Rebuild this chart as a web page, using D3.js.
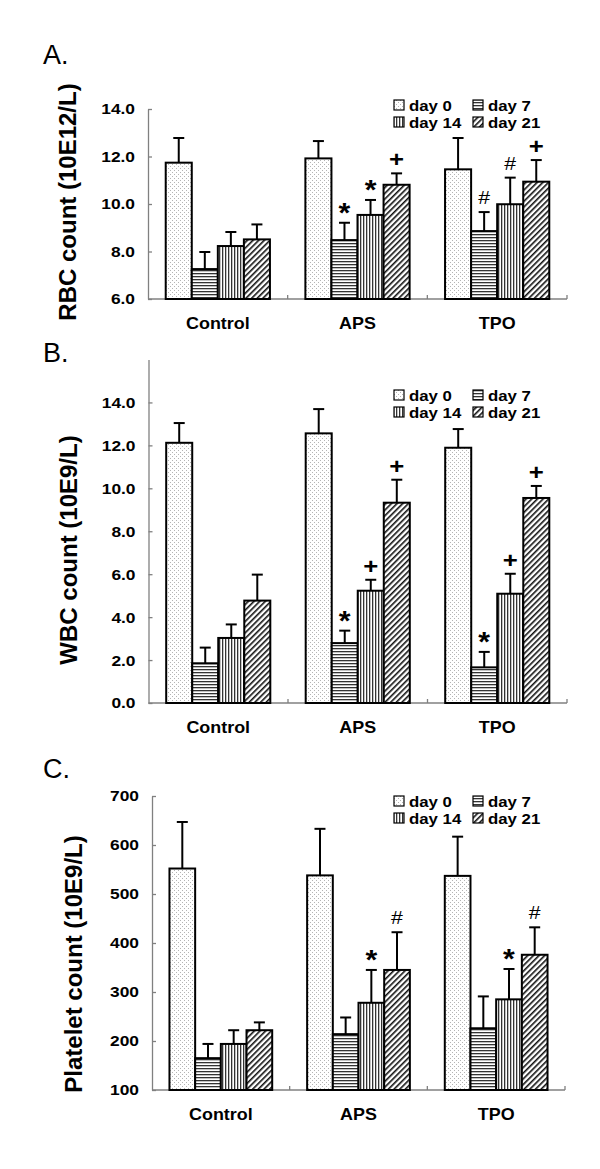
<!DOCTYPE html>
<html><head><meta charset="utf-8">
<script src="https://cdn.jsdelivr.net/npm/d3@7"></script>
<style>body{margin:0;background:#fff}svg{display:block}</style>
</head><body>
<svg id="chart" width="600" height="1169"></svg>
<script>
const categories = ["Control", "APS", "TPO"];
const days = ["day 0", "day 7", "day 14", "day 21"];

const rbcMean = [[11.74, 7.26, 8.23, 8.51], [11.92, 8.48, 9.54, 10.81], [11.46, 8.86, 9.99, 10.94]];
const rbcSD   = [[1.04, 0.72, 0.59, 0.63], [0.73, 0.73, 0.63, 0.48], [1.32, 0.80, 1.12, 0.91]];
const rbcMarks = [["", "", "", ""], ["", "*", "*", "+"], ["", "#", "#", "+"]];
const rbcTicks = [6, 8, 10, 12, 14];

const wbcMean = [[12.12, 1.85, 3.03, 4.77], [12.56, 2.79, 5.23, 9.33], [11.89, 1.66, 5.09, 9.55]];
const wbcSD   = [[0.92, 0.73, 0.63, 1.21], [1.13, 0.58, 0.51, 1.07], [0.87, 0.72, 0.93, 0.56]];
const wbcMarks = [["", "", "", ""], ["", "*", "+", "+"], ["", "*", "+", "+"]];
const wbcTicks = [0, 2, 4, 6, 8, 10, 12, 14];

const pltMean = [[552, 165, 194, 222], [538, 214, 278, 345], [537, 226, 285, 376]];
const pltSD   = [[95, 29, 28, 16], [95, 34, 67, 77], [80, 65, 62, 56]];
const pltMarks = [["", "", "", ""], ["", "", "*", "#"], ["", "", "*", "#"]];
const pltTicks = [100, 200, 300, 400, 500, 600, 700];

const svg = d3.select("#chart");
const FONT = "Arial, 'Liberation Sans', Helvetica, sans-serif";
const SX = 1.12;

// patterns
const defs = svg.append("defs");
const p0 = defs.append("pattern").attr("id", "pat0").attr("patternUnits", "userSpaceOnUse").attr("width", 4).attr("height", 4);
p0.append("rect").attr("width", 4).attr("height", 4).attr("fill", "#fff");
p0.append("rect").attr("x", 0).attr("y", 0).attr("width", 1).attr("height", 1).attr("fill", "#b4b4b4");
p0.append("rect").attr("x", 2).attr("y", 2).attr("width", 1).attr("height", 1).attr("fill", "#b4b4b4");
const p1 = defs.append("pattern").attr("id", "pat1").attr("patternUnits", "userSpaceOnUse").attr("width", 4).attr("height", 3);
p1.append("rect").attr("width", 4).attr("height", 3).attr("fill", "#fff");
p1.append("rect").attr("y", 0).attr("width", 4).attr("height", 1.3).attr("fill", "#333");
const p2 = defs.append("pattern").attr("id", "pat2").attr("patternUnits", "userSpaceOnUse").attr("width", 3).attr("height", 4);
p2.append("rect").attr("width", 3).attr("height", 4).attr("fill", "#fff");
p2.append("rect").attr("x", 0).attr("width", 1.3).attr("height", 4).attr("fill", "#333");
const p3 = defs.append("pattern").attr("id", "pat3").attr("patternUnits", "userSpaceOnUse").attr("width", 4).attr("height", 4)
  .attr("patternTransform", "rotate(45)");
p3.append("rect").attr("width", 4).attr("height", 4).attr("fill", "#fff");
p3.append("rect").attr("x", 0).attr("width", 1.6).attr("height", 4).attr("fill", "#111");
const fills = ["url(#pat0)", "url(#pat1)", "url(#pat2)", "url(#pat3)"];

function stretchedText(g, x, y, txt, size, weight, anchor) {
  return g.append("text")
    .attr("transform", `translate(${x},${y}) scale(${SX},1)`)
    .attr("text-anchor", anchor || "start")
    .attr("font-family", FONT).attr("font-size", size).attr("font-weight", weight)
    .attr("fill", "#000").text(txt);
}

const panels = [
  { label: "A.", labelY: 64, title: "RBC count (10E12/L)", titleX: 68, titleY: 202,
    mean: rbcMean, sd: rbcSD, marks: rbcMarks, ticks: rbcTicks, fmt: d3.format(".1f"),
    dom: [6, 14], yr: [299, 109], xr: [148, 567], legY: 105 },
  { label: "B.", labelY: 362, title: "WBC count (10E9/L)", titleX: 69, titleY: 550,
    mean: wbcMean, sd: wbcSD, marks: wbcMarks, ticks: wbcTicks, fmt: d3.format(".1f"),
    dom: [0, 16], yr: [703, 359.5], xr: [148.5, 567], legY: 395 },
  { label: "C.", labelY: 778, title: "Platelet count (10E9/L)", titleX: 74, titleY: 964,
    mean: pltMean, sd: pltSD, marks: pltMarks, ticks: pltTicks, fmt: d3.format("d"),
    dom: [100, 700], yr: [1090, 796], xr: [152, 565], legY: 801 }
];

panels.forEach(P => {
  const g = svg.append("g");
  const y = d3.scaleLinear().domain(P.dom).range(P.yr);
  const x0 = d3.scaleBand().domain(categories).range(P.xr).padding(0);
  const x1 = d3.scaleBand().domain(days).range([0, x0.bandwidth()]).paddingInner(0).paddingOuter(0.68);

  // panel label
  g.append("text").attr("x", 43).attr("y", P.labelY).attr("font-family", FONT)
    .attr("font-size", 27).attr("fill", "#000").text(P.label);

  // y title
  g.append("text").attr("transform", `translate(${P.titleX + 8},${P.titleY}) rotate(-90)`)
    .attr("text-anchor", "middle").attr("font-family", FONT).attr("font-size", 24)
    .attr("font-weight", "bold").attr("fill", "#000").text(P.title);

  // y axis
  const ax = g.append("g").attr("transform", `translate(${P.xr[0]},0)`)
    .call(d3.axisLeft(y).tickValues(P.ticks).tickFormat(P.fmt).tickSizeInner(-4).tickSizeOuter(0).tickPadding(11.6));
  ax.select(".domain").attr("stroke", "#808080").attr("stroke-width", 1.3);
  ax.selectAll(".tick line").attr("stroke", "#808080").attr("stroke-width", 1.3);
  ax.selectAll(".tick text").attr("font-family", FONT).attr("font-size", 15.5).attr("font-weight", "bold")
    .attr("fill", "#000").attr("transform", `scale(${SX},1)`);

  // x axis line
  const yb = y(P.dom[0]);
  g.append("line").attr("x1", P.xr[0]).attr("x2", P.xr[1]).attr("y1", yb).attr("y2", yb)
    .attr("stroke", "#808080").attr("stroke-width", 1.3);
  categories.forEach(c => {
    const xe = x0(c) + x0.bandwidth();
    g.append("line").attr("x1", xe).attr("x2", xe).attr("y1", yb).attr("y2", yb - 4)
      .attr("stroke", "#808080").attr("stroke-width", 1.3);
    stretchedText(g, x0(c) + x0.bandwidth() / 2, yb + 30, c, 16, "bold", "middle");
  });

  // bars
  categories.forEach((c, ci) => {
    days.forEach((d, di) => {
      const v = P.mean[ci][di], e = P.sd[ci][di];
      const bx = x0(c) + x1(d), bw = x1.bandwidth();
      const cx = bx + bw / 2;
      g.append("line").attr("x1", cx).attr("x2", cx).attr("y1", y(v)).attr("y2", y(v + e))
        .attr("stroke", "#000").attr("stroke-width", 2);
      g.append("line").attr("x1", cx - 5.5).attr("x2", cx + 5.5).attr("y1", y(v + e)).attr("y2", y(v + e))
        .attr("stroke", "#000").attr("stroke-width", 2);
      g.append("rect").attr("x", bx).attr("y", y(v)).attr("width", bw).attr("height", yb - y(v))
        .attr("fill", fills[di]).attr("stroke", "#000").attr("stroke-width", 2);
      const m = P.marks[ci][di];
      if (m) {
        const top = y(v + e);
        if (m === "*") stretchedText(g, cx, top - 1, m, 27, "bold", "middle");
        else if (m === "+") stretchedText(g, cx, top - 6, m, 23, "bold", "middle");
        else stretchedText(g, cx, top - 8, m, 19, "bold", "middle").attr("font-weight", 500);
      }
    });
  });

  // legend
  days.forEach((d, i) => {
    const lx = i % 2 === 0 ? 394 : 473;
    const ly = P.legY + Math.floor(i / 2) * 17;
    g.append("rect").attr("x", lx).attr("y", ly - 5).attr("width", 10).attr("height", 10)
      .attr("fill", fills[i]).attr("stroke", "#000").attr("stroke-width", 1.2);
    stretchedText(g, lx + 15, ly + 5.5, d, 15, "bold", "start");
  });
});
</script>
</body></html>
